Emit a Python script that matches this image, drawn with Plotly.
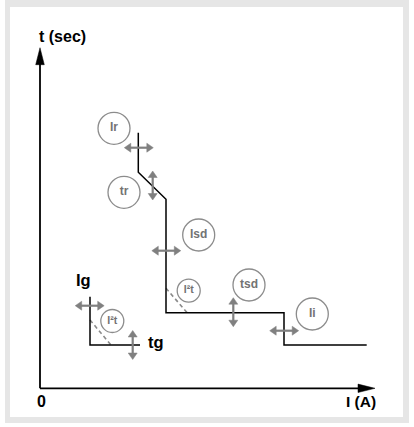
import plotly.graph_objects as go

W, H = 414, 427
OX, OY = 40, 388.3  # axis origin position in the page (px)

# ---- schematic data (diagram units, origin at axis origin, y upward) ----
curve_x = [98.3, 98.3, 126, 126, 244, 244, 326.7]
curve_y = [255.6, 216, 189, 75.6, 75.6, 43.3, 43.3]
ground_x = [50, 50, 100]
ground_y = [91.6, 43.3, 43.3]
i2t_main_x = [126, 147.7]
i2t_main_y = [100, 75]
i2t_ground_x = [50, 71]
i2t_ground_y = [68.3, 43.3]

circle_labels = ["Ir", "tr", "Isd", "I²t", "tsd", "Ii", "I²t"]
circle_x = [74, 84, 158.7, 148.7, 209, 272.3, 72.3]
circle_y = [260, 196, 153.3, 97.6, 103.3, 74.3, 67.3]
circle_size = [32, 32, 32, 23, 32, 32, 23]
circle_font = [12, 12, 12, 10.5, 12, 12, 10.5]

harrow_x = [98.8, 126.3, 244.2, 49.7]
harrow_y = [240.6, 137.6, 57.6, 82.6]
varrow_x = [112.7, 193.3, 92.7]
varrow_y = [202.8, 76.1, 43.3]

axis_x_end = 335.0
axis_y_end = 340.6

GRAY = "#808080"
FONT = "Liberation Sans, Arial, Helvetica, sans-serif"

fig = go.Figure()

# axes lines
fig.add_trace(go.Scatter(x=[0, 0, None, 0, axis_x_end - 12], y=[axis_y_end - 12, 0, None, 0, 0],
                         mode="lines", line=dict(color="black", width=1.8),
                         hoverinfo="skip", showlegend=False))
# axis arrow heads
hx, hy = [], []
hx += [axis_x_end, axis_x_end - 17, axis_x_end - 17, axis_x_end, None]
hy += [0, 4.2, -4.2, 0, None]
hx += [0, -4.3, 4.3, 0, None]
hy += [axis_y_end, axis_y_end - 17, axis_y_end - 17, axis_y_end, None]
fig.add_trace(go.Scatter(x=hx, y=hy, mode="lines", fill="toself", fillcolor="black",
                         line=dict(color="black", width=0.5), hoverinfo="skip", showlegend=False))

# dashed I2t segments
for xs, ys in [(i2t_main_x, i2t_main_y), (i2t_ground_x, i2t_ground_y)]:
    fig.add_trace(go.Scatter(x=xs, y=ys, mode="lines",
                             line=dict(color="#8a8a8a", width=1.6, dash="4px,3px"),
                             hoverinfo="skip", showlegend=False))

# curves
for xs, ys in [(curve_x, curve_y), (ground_x, ground_y)]:
    fig.add_trace(go.Scatter(x=xs, y=ys, mode="lines", line=dict(color="black", width=1.5),
                             hoverinfo="skip", showlegend=False))

# double arrows
L, HL, HW = 14.5, 6.5, 4.5
sx, sy, px, py = [], [], [], []
for cx, cy in zip(harrow_x, harrow_y):
    sx += [cx - L + HL - 1, cx + L - HL + 1, None]
    sy += [cy, cy, None]
    px += [cx - L, cx - L + HL, cx - L + HL, cx - L, None,
           cx + L, cx + L - HL, cx + L - HL, cx + L, None]
    py += [cy, cy + HW, cy - HW, cy, None, cy, cy + HW, cy - HW, cy, None]
for cx, cy in zip(varrow_x, varrow_y):
    sx += [cx, cx, None]
    sy += [cy - L + HL - 1, cy + L - HL + 1, None]
    px += [cx, cx + HW, cx - HW, cx, None, cx, cx + HW, cx - HW, cx, None]
    py += [cy - L, cy - L + HL, cy - L + HL, cy - L, None,
           cy + L, cy + L - HL, cy + L - HL, cy + L, None]
fig.add_trace(go.Scatter(x=sx, y=sy, mode="lines", line=dict(color=GRAY, width=2.2),
                         hoverinfo="skip", showlegend=False))
fig.add_trace(go.Scatter(x=px, y=py, mode="lines", fill="toself", fillcolor=GRAY,
                         line=dict(color=GRAY, width=0.5), hoverinfo="skip", showlegend=False))

# circles with labels
fig.add_trace(go.Scatter(x=circle_x, y=circle_y, mode="markers+text", text=circle_labels,
                         textposition="middle center",
                         textfont=dict(family=FONT, size=circle_font, color="#737373", weight="bold"),
                         marker=dict(size=circle_size, color="#ffffff", opacity=1,
                                     line=dict(color="#8c8c8c", width=1.3)),
                         opacity=1, hoverinfo="skip", showlegend=False))

# black labels
labels = [
    ("t (sec)", -3, 352.3, "left", 16),
    ("0", 1, -13.4, "center", 16),
    ("I (A)", 337.7, -13.4, "right", 15.5),
    ("Ig", 43.5, 108.3, "center", 16.5),
    ("tg", 106, 46.6, "left", 16.5),
]
for t, x, y, xa, s in labels:
    fig.add_annotation(x=x, y=y, xref="x", yref="y", text=t, showarrow=False,
                       xanchor=xa, yanchor="middle",
                       font=dict(family=FONT, size=s, color="black", weight="bold"))

# page frame
fig.add_shape(type="rect", xref="paper", yref="paper", x0=5 / W, x1=409 / W,
              y0=1 - 423 / H, y1=1.02, fillcolor="#e6e6e6", line=dict(width=0), layer="below")
fig.add_shape(type="rect", xref="paper", yref="paper", x0=10 / W, x1=403 / W,
              y0=1 - 417 / H, y1=1 - 7 / H, fillcolor="white", line=dict(width=0), layer="below")

fig.update_layout(
    width=W, height=H, margin=dict(l=0, r=0, t=0, b=0),
    paper_bgcolor="white", plot_bgcolor="rgba(0,0,0,0)",
    xaxis=dict(range=[-OX, W - OX], visible=False, fixedrange=True),
    yaxis=dict(range=[OY - H, OY], visible=False, fixedrange=True),
    showlegend=False,
)

fig.write_html("out.html", config={"displayModeBar": False},
               post_script="document.body.style.margin='0';document.body.style.padding='0';")
